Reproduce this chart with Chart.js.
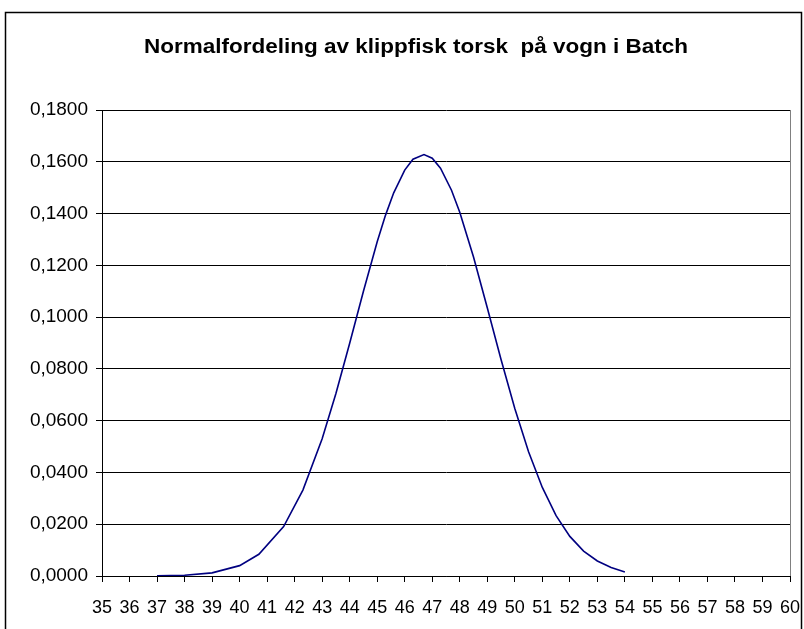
<!DOCTYPE html>
<html>
<head>
<meta charset="UTF-8">
<title>Normalfordeling</title>
<script src="https://cdn.jsdelivr.net/npm/chart.js@4.4.1/dist/chart.umd.min.js"></script>
<style>
	body { margin: 0; background: #fff; }
	#wrap { width: 804px; height: 629px; }
</style>
</head>
<body>
<div id="wrap"><canvas id="curve" width="804" height="629"></canvas></div>
<script>
var TITLE = 'Normalfordeling av klippfisk torsk  på vogn i Batch';
// vekt (x) og sannsynlighetstetthet (y), lest av bildet
var xValues = [37, 38, 39, 40, 40.7, 41.6, 42.3, 43, 43.5, 44, 44.5, 45, 45.3, 45.6, 46, 46.3, 46.7,
	47, 47.3, 47.7, 48, 48.5, 49, 49.5, 50, 50.5, 51, 51.5, 52, 52.5, 53, 53.5, 54];
var yValues = [0.0001, 0.0003, 0.0012, 0.0040, 0.0084, 0.0191, 0.0332, 0.0530, 0.0705, 0.0899, 0.1100,
	0.1291, 0.1393, 0.1480, 0.1568, 0.1610, 0.1628, 0.1614, 0.1575, 0.1490, 0.1405, 0.1232, 0.1036,
	0.0836, 0.0647, 0.0480, 0.0342, 0.0233, 0.0153, 0.0096, 0.0058, 0.0033, 0.0015];
var xMin = 35, xMax = 60;
var yMin = 0, yMax = 0.18, yStep = 0.02;

var points = xValues.map(function(x, i) { return {x: x, y: yValues[i]}; });

// ramme, tittel (litt bredere skrift som i Excel) og høyre kant av plottet
var framePlugin = {
	id: 'frame',
	beforeDraw: function(chart) {
		var c = chart.ctx;
		c.save();
		c.fillStyle = '#fff';
		c.fillRect(0, 0, chart.width, chart.height);
		c.strokeStyle = '#000';
		c.lineWidth = 1.5;
		c.strokeRect(5.5, 12.5, 796, 640);
		c.restore();
	},
	afterDraw: function(chart) {
		var c = chart.ctx;
		c.save();
		c.font = 'bold 20px "Liberation Sans"';
		c.fillStyle = '#000';
		c.textAlign = 'center';
		c.textBaseline = 'middle';
		var w = c.measureText(TITLE).width;
		c.translate(416, 47);
		c.scale(544 / w, 1);
		c.fillText(TITLE, 0, 0);
		c.restore();
	},
	afterDatasetsDraw: function(chart) {
		var a = chart.chartArea, c = chart.ctx;
		c.save();
		c.strokeStyle = '#808080';
		c.lineWidth = 1;
		c.beginPath();
		c.moveTo(Math.round(a.right) + 0.5, a.top);
		c.lineTo(Math.round(a.right) + 0.5, a.bottom);
		c.stroke();
		c.restore();
	}
};

var ctx = document.getElementById('curve').getContext('2d');
new Chart(ctx, {
	type: 'scatter',
	data: {
		datasets: [{
			data: points,
			showLine: true,
			borderColor: '#000080',
			borderWidth: 1.6,
			pointRadius: 0,
			tension: 0,
			fill: false
		}]
	},
	options: {
		responsive: false,
		animation: false,
		layout: { padding: { left: 0, right: 14, top: 110, bottom: 0 } },
		plugins: {
			legend: { display: false },
			tooltip: { enabled: false },
			title: { display: false }
		},
		scales: {
			x: {
				type: 'linear',
				min: xMin, max: xMax,
				afterFit: function(s) { s.height = 53; s.paddingLeft = 0; s.paddingRight = 0; },
				ticks: {
					stepSize: 1,
					autoSkip: false,
					maxRotation: 0,
					color: '#000',
					padding: 15,
					font: { family: 'Liberation Sans', size: 18 }
				},
				grid: { drawOnChartArea: false, drawTicks: true, tickLength: 6, color: '#000' },
				border: { color: '#000', width: 1 }
			},
			y: {
				min: yMin, max: yMax,
				afterFit: function(s) { s.width = 102; s.paddingTop = 0; s.paddingBottom = 0; },
				ticks: {
					stepSize: yStep,
					color: '#000',
					padding: 8,
					font: { family: 'Liberation Sans', size: 19 },
					callback: function(v) { return v.toFixed(4).replace('.', ','); }
				},
				grid: { color: '#000', lineWidth: 1, tickLength: 6 },
				border: { color: '#000', width: 1 }
			}
		}
	},
	plugins: [framePlugin]
});
</script>
</body>
</html>
